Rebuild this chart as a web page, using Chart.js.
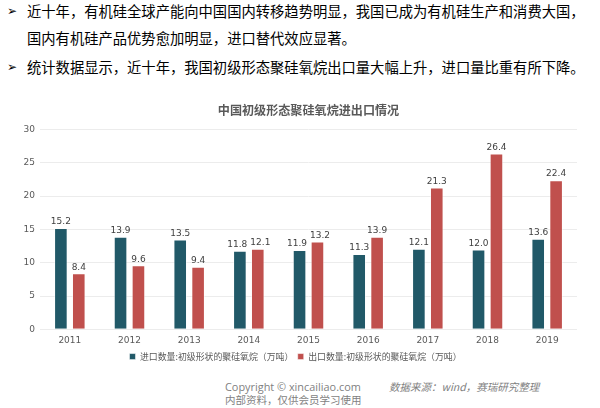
<!DOCTYPE html>
<html>
<head>
<meta charset="utf-8">
<script src="https://cdn.jsdelivr.net/npm/chart.js"></script>
<style>
  html, body { margin: 0; padding: 0; background: #fff; }
  body { width: 600px; height: 408px; position: relative; overflow: hidden;
         font-family: "Noto Sans CJK SC", "Noto Sans", sans-serif; }
  .line { position: absolute; left: 27px; font-size: 14.3px; color: #000; white-space: nowrap; line-height: 18px; }
  .bullet { position: absolute; left: 7px; font-size: 12px; font-family: "DejaVu Sans", sans-serif; line-height: 18px; }
  #wrap { position: absolute; left: 14px; top: 96px; width: 586px; height: 275px; }
  .foot { position: absolute; font-size: 10.5px; color: #7f7f7f; white-space: nowrap; line-height: 12px; }
</style>
</head>
<body>
<div class="bullet" style="top:2px">➢</div>
<div class="line" style="top:2px">近十年，有机硅全球产能向中国国内转移趋势明显，我国已成为有机硅生产和消费大国，</div>
<div class="line" style="top:29px">国内有机硅产品优势愈加明显，进口替代效应显著。</div>
<div class="bullet" style="top:58px">➢</div>
<div class="line" style="top:58px">统计数据显示，近十年，我国初级形态聚硅氧烷出口量大幅上升，进口量比重有所下降。</div>

<div id="wrap"><canvas id="barChart"></canvas></div>

<div class="foot" style="left:225px; top:381px; font-size:10.9px; font-family:'Open Sans','Noto Sans',sans-serif;">Copyright © xincailiao.com</div>
<div class="foot" style="left:225px; top:394px;">内部资料，仅供会员学习使用</div>
<div class="foot" style="left:389px; top:381px; font-style:italic;">数据来源：wind，赛瑞研究整理</div>

<script>
const years = ['2011', '2012', '2013', '2014', '2015', '2016', '2017', '2018', '2019'];
const importData = [15.2, 13.9, 13.5, 11.8, 11.9, 11.3, 12.1, 12.0, 13.6];
const exportData = [8.4, 9.6, 9.4, 12.1, 13.2, 13.9, 21.3, 26.4, 22.4];
const yTicks = [0, 5, 10, 15, 20, 25, 30];
const seriesNames = ['进口数量:初级形状的聚硅氧烷（万吨）', '出口数量:初级形状的聚硅氧烷（万吨）'];

// value labels above each bar, pushed apart when a pair would collide
const barLabels = {
    id: 'barLabels',
    afterDatasetsDraw(chart) {
        const ctx = chart.ctx;
        ctx.save();
        ctx.font = '9px "DejaVu Sans", sans-serif';
        ctx.fillStyle = '#404040';
        ctx.textAlign = 'center';
        ctx.textBaseline = 'bottom';
        const a = chart.getDatasetMeta(0).data;
        const b = chart.getDatasetMeta(1).data;
        a.forEach(function (barA, j) {
            const barB = b[j];
            const tA = chart.data.datasets[0].data[j].toFixed(1);
            const tB = chart.data.datasets[1].data[j].toFixed(1);
            const wA = ctx.measureText(tA).width;
            const wB = ctx.measureText(tB).width;
            let xA = barA.x, xB = barB.x;
            const need = (wA + wB) / 2 + 3;
            if (Math.abs(barA.y - barB.y) < 12 && xB - xA < need) {
                const push = (need - (xB - xA)) / 2;
                xA -= push;
                xB += push;
            }
            ctx.fillText(tA, xA, barA.y - 1.5);
            ctx.fillText(tB, xB, barB.y - 1.5);
        });
        ctx.restore();
    }
};

const ctxBar = document.getElementById('barChart').getContext('2d');
const barChart = new Chart(ctxBar, {
    type: 'bar',
    data: {
        labels: years,
        datasets: [{
            label: seriesNames[0] + '\u3000',
            data: importData,
            backgroundColor: '#215968',
            borderColor: 'rgba(255,255,255,0.5)',
            borderWidth: 1
        }, {
            label: seriesNames[1],
            data: exportData,
            backgroundColor: '#C0504D',
            borderColor: 'rgba(255,255,255,0.5)',
            borderWidth: 1
        }]
    },
    options: {
        responsive: true,
        maintainAspectRatio: false,
        animation: false,
        categoryPercentage: 0.6,
        barPercentage: 0.76,
        layout: { padding: { left: 0, right: 23, top: 0, bottom: 0 } },
        plugins: {
            title: {
                display: true,
                fullSize: false,
                text: '中国初级形态聚硅氧烷进出口情况',
                color: '#595959',
                font: { family: '"Noto Sans CJK SC", sans-serif', size: 12.1, weight: 'bold' },
                padding: { top: 7, bottom: 12 }
            },
            legend: {
                position: 'bottom',
                labels: {
                    color: '#595959',
                    boxWidth: 6,
                    boxHeight: 6,
                    padding: 0,
                    font: { family: '"Noto Sans CJK SC", sans-serif', size: 8.9 }
                }
            },
            tooltip: { enabled: false }
        },
        scales: {
            x: {
                grid: { display: false, drawTicks: false },
                border: { display: false },
                ticks: { color: '#595959', padding: 6, font: { family: '"DejaVu Sans", sans-serif', size: 9 } }
            },
            y: {
                min: 0,
                max: 30,
                afterFit(scale) { scale.width = 26; },
                afterBuildTicks(scale) { scale.ticks = yTicks.map(v => ({ value: v })); },
                grid: { color: '#ececec', drawTicks: false },
                border: { display: false },
                ticks: { color: '#595959', padding: 5, font: { family: '"DejaVu Sans", sans-serif', size: 9 } }
            }
        }
    },
    plugins: [barLabels]
});
</script>
</body>
</html>
